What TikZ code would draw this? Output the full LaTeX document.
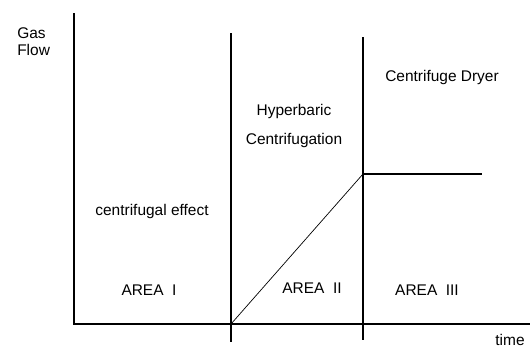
\documentclass[tikz,border=0pt]{standalone}
\usepackage{fontspec}
\setmainfont{Liberation Sans}
\begin{document}
\begin{tikzpicture}[every node/.style={font=\fontsize{11}{13}\selectfont, inner sep=0pt}]
\useasboundingbox (-1.85, -0.575) rectangle (11.4, 8.1);

% axes
\draw[line width=0.8pt]
    (0.0, 7.775) -- (0.0, 0.0) -- (11.4, 0.0);

% area borders
\draw[line width=0.8pt]
    (3.925, 7.275) -- (3.925, -0.45);
\draw[line width=0.8pt]
    (7.225, 7.175) -- (7.225, -0.4);

% gas flow curve
\coordinate (rampstart) at (3.925, 0.0);
\coordinate (rampend) at (7.225, 3.75);
\coordinate (flatend) at (10.2, 3.75);
\draw[line width=0.5pt] (rampstart) -- (rampend);
\draw[line width=0.8pt] (rampend) -- (flatend);

\node[anchor=west] (gas) at (-1.425, 7.275) {Gas};
\node[anchor=west] (flow) at (-1.425, 6.85) {Flow};
\node (time) at (10.9, -0.39) {time};

\node (hyper) at (5.5, 5.325) {Hyperbaric};
\node (centrif) at (5.5, 4.6) {Centrifugation};
\node (dryer) at (9.2, 6.175) {Centrifuge Dryer};
\node (effect) at (1.95, 2.825) {centrifugal effect};

\node (areaone) at (1.875, 0.85) {AREA~~I};
\node (areatwo) at (5.95, 0.9) {AREA~~II};
\node (areathree) at (8.825, 0.85) {AREA~~III};
\end{tikzpicture}
\end{document}
